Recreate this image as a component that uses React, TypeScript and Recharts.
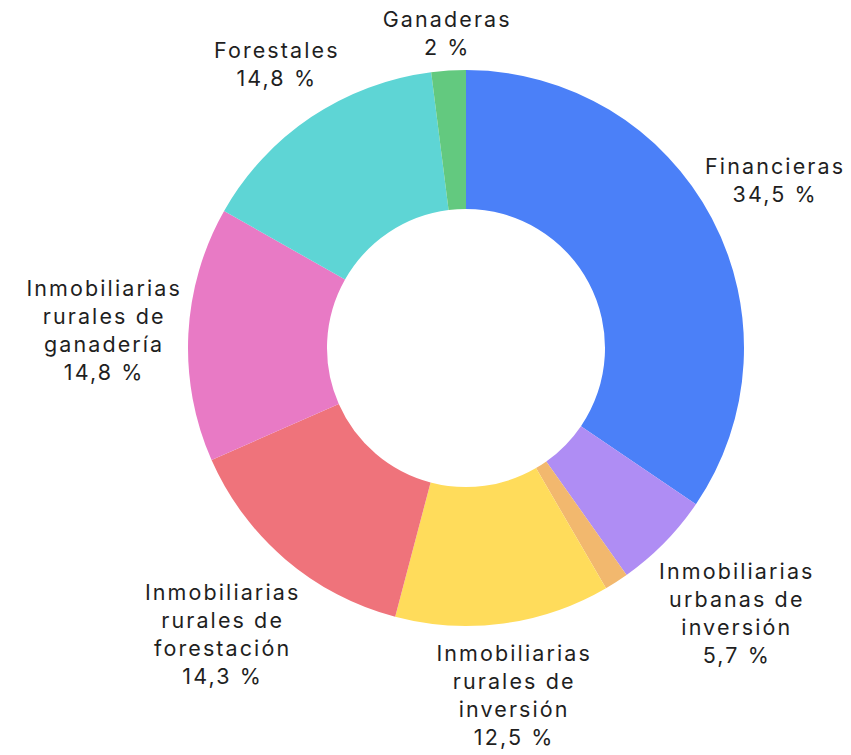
import React from "react";
import { PieChart, Pie, Cell } from "recharts";

const categories = [
  "Financieras",
  "Inmobiliarias\nurbanas de\ninversión",
  "Otras",
  "Inmobiliarias\nrurales de\ninversión",
  "Inmobiliarias\nrurales de\nforestación",
  "Inmobiliarias\nrurales de\nganadería",
  "Forestales",
  "Ganaderas",
];
const values = [34.5, 5.7, 1.4, 12.5, 14.3, 14.8, 14.8, 2];
const colors = [
  "#4B80F8",
  "#AF8DF4",
  "#F2B86E",
  "#FFDC5B",
  "#EF737B",
  "#E87AC5",
  "#5ED5D5",
  "#63C97F",
];

const data = categories.map((name, i) => ({ name, value: values[i] }));

const CHART_W = 851;
const CHART_H = 755;
const FONT_SIZE = 21.5;
const LETTER_SPACING = 2.1;
const LINE_HEIGHT = 28;
const FONT_FAMILY = "Inter, 'Noto Sans', sans-serif";

let ctx: CanvasRenderingContext2D | null = null;
function measure(s: string): number {
  if (!ctx) {
    const c = document.createElement("canvas");
    ctx = c.getContext("2d");
  }
  if (!ctx) return s.length * 12;
  ctx.font = `${FONT_SIZE}px Inter`;
  return ctx.measureText(s).width + LETTER_SPACING * (s.length - 1);
}

const fmt = (v: number) => `${String(v).replace(".", ",")} %`;

const RADIAN = Math.PI / 180;

const renderLabel = (props: any) => {
  const { cx, cy, midAngle, outerRadius, name, value } = props;
  if (value < 1.5) return null;
  const lines = [...String(name).split("\n"), fmt(value)];
  const w = Math.max(...lines.map(measure));
  const h = lines.length * LINE_HEIGHT;
  const cos = Math.cos(-midAngle * RADIAN);
  const sin = Math.sin(-midAngle * RADIAN);
  const dist = outerRadius + 6 + (Math.abs(cos) * w) / 2 + (Math.abs(sin) * h) / 2;
  let x = cx + dist * cos;
  x = Math.min(x, CHART_W - 8 - w / 2);
  x = Math.max(x, 8 + w / 2);
  x += LETTER_SPACING / 2;
  let y = cy + dist * sin;
  y = Math.max(y, h / 2 + 4);
  const y0 = y - ((lines.length - 1) * LINE_HEIGHT) / 2;
  return (
    <text
      x={x}
      y={y0}
      textAnchor="middle"
      fill="#1f1f1f"
      fontSize={FONT_SIZE}
      fontFamily={FONT_FAMILY}
      letterSpacing={LETTER_SPACING}
    >
      {lines.map((l, i) => (
        <tspan key={i} x={x} y={y0 + i * LINE_HEIGHT} dominantBaseline="central">
          {l}
        </tspan>
      ))}
    </text>
  );
};

export default function App() {
  return (
    <div style={{ position: "absolute", left: 0, top: 0, width: CHART_W, height: CHART_H, overflow: "hidden" }}>
      <PieChart width={CHART_W} height={CHART_H} margin={{ top: 0, right: 0, bottom: 0, left: 0 }}>
        <Pie
          data={data}
          dataKey="value"
          nameKey="name"
          cx={466}
          cy={348}
          innerRadius={139}
          outerRadius={278}
          startAngle={90}
          endAngle={-270}
          stroke="none"
          label={renderLabel}
          labelLine={false}
          isAnimationActive={false}
        >
          {data.map((d, i) => (
            <Cell key={d.name} fill={colors[i]} />
          ))}
        </Pie>
      </PieChart>
    </div>
  );
}
